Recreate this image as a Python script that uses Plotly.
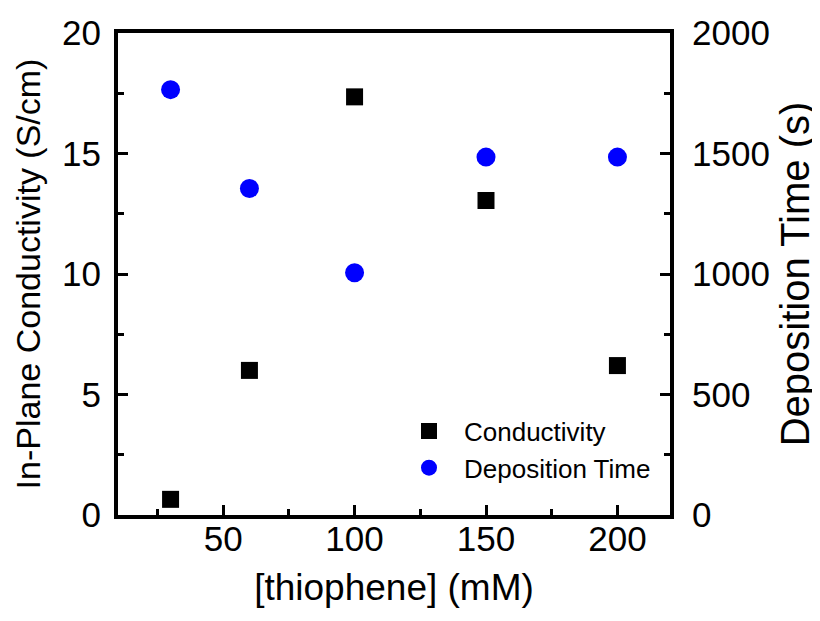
import plotly.graph_objects as go

thiophene_mM = [30, 60, 100, 150, 200]
conductivity_S_cm = [0.65, 6.0, 17.35, 13.05, 6.2]
deposition_time_s = [1765, 1355, 1005, 1485, 1485]

FONT = "Liberation Sans, Arial, sans-serif"

fig = go.Figure()
fig.add_trace(go.Scatter(
    x=thiophene_mM, y=conductivity_S_cm, mode="markers", name="Conductivity",
    marker=dict(symbol="square", size=17, color="black", line=dict(width=0)),
    yaxis="y"))
fig.add_trace(go.Scatter(
    x=thiophene_mM, y=deposition_time_s, mode="markers", name="Deposition Time",
    marker=dict(symbol="circle", size=19, color="#0000FF", line=dict(width=0)),
    yaxis="y2"))

axis_common = dict(
    showline=True, linewidth=4, linecolor="black",
    ticks="inside", ticklen=10, tickwidth=3, tickcolor="black",
    showgrid=False, zeroline=False, automargin=False,
    tickfont=dict(family=FONT, size=35, color="black"),
)

# the page body adds an 8px offset, so the figure is 8px smaller than the window
fig.update_layout(
    width=812, height=613,
    margin=dict(l=110, r=150, t=25, b=106),
    paper_bgcolor="white", plot_bgcolor="white",
    font=dict(family=FONT, color="black"),
    showlegend=True,
    legend=dict(x=0.5, y=0.223, xanchor="left", yanchor="top",
                bgcolor="rgba(0,0,0,0)", font=dict(family=FONT, size=26),
                itemwidth=60, tracegroupgap=0),
    xaxis=dict(range=[10, 220], tick0=0, dtick=50, mirror=True,
               minor=dict(dtick=25, tick0=0, ticks="inside", ticklen=6, tickwidth=3, tickcolor="black"),
               title=dict(text="[thiophene] (mM)", font=dict(family=FONT, size=37), standoff=18),
               ticklabelstandoff=-10,
               **axis_common),
    yaxis=dict(range=[0, 20], tick0=0, dtick=5,
               minor=dict(dtick=2.5, tick0=0, ticks="inside", ticklen=6, tickwidth=3, tickcolor="black"),
               title=dict(text="In-Plane Conductivity (S/cm)", font=dict(family=FONT, size=34), standoff=12),
               ticklabelstandoff=6,
               **axis_common),
    yaxis2=dict(range=[0, 2000], tick0=0, dtick=500, overlaying="y", side="right",
                minor=dict(dtick=250, tick0=0, ticks="inside", ticklen=6, tickwidth=3, tickcolor="black"),
                title=dict(text="Deposition Time (s)", font=dict(family=FONT, size=40), standoff=13),
                ticklabelstandoff=11,
                **axis_common),
)

fig.write_html("out.html")
